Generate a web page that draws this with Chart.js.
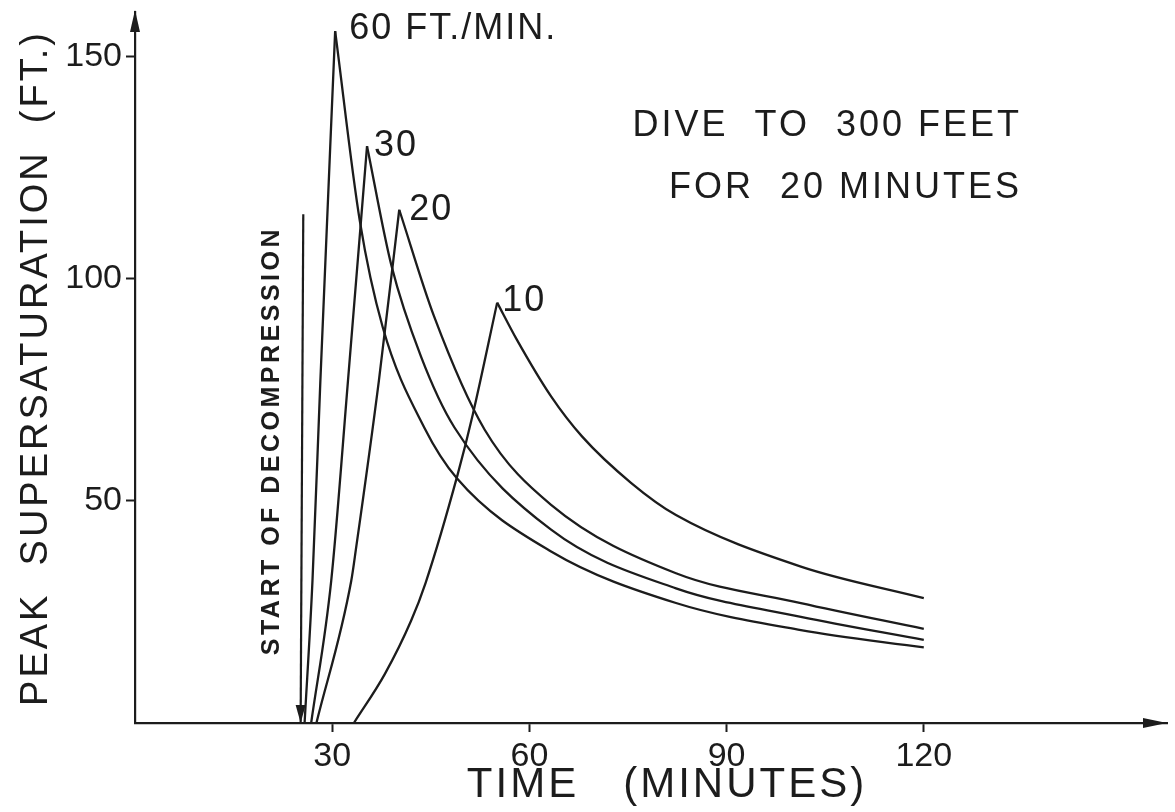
<!DOCTYPE html>
<html>
<head>
<meta charset="utf-8">
<script src="https://cdn.jsdelivr.net/npm/chart.js@4"></script>
<style>
  html, body { margin: 0; padding: 0; background: #fff; }
  canvas { display: block; }
</style>
</head>
<body>
<canvas id="diveChart" width="1175" height="812"></canvas>
<script>
// values: time in minutes, peak supersaturation in feet
const time60 = [25.8, 27.0, 28.2, 30.45, 34.2, 37.7, 44.0, 49.0, 63.3, 82.3, 101.3, 120];
const sat60  = [0, 32, 77, 155.7, 113, 89, 66.5, 55, 38.6, 27.0, 20.9, 17.0];

const time30 = [26.8, 29.85, 32.4, 35.3, 39.0, 43.5, 48.6, 63.3, 82.3, 101.3, 120];
const sat30  = [0, 32, 77, 129.8, 103, 82.5, 66.5, 43.5, 30.3, 23.9, 18.7];

const time20 = [27.6, 32.9, 33.6, 37.1, 40.2, 45.5, 53.2, 63.3, 82.3, 101.3, 120];
const sat20  = [0, 32, 39, 77, 115.5, 91.5, 66, 49.1, 33.7, 27.0, 21.2];

const time10 = [33.3, 38.0, 42.0, 44.2, 49.1, 51.4, 55.1, 58.0, 63.3, 68.0, 75.5, 82.3, 101.3, 120];
const sat10  = [0, 11, 23, 31.5, 56, 69.5, 94.6, 86.5, 73.5, 64.5, 54, 46.8, 35.2, 28.1];

const rateLabels = ['60 FT./MIN.', '30', '20', '10'];

// start of decompression arrow
const decompTime = [25.6, 25.2];
const decompSat  = [114.5, 0];

const xTickValues = [30, 60, 90, 120];
const yTickValues = [50, 100, 150];
const xMax = 157;
const yMax = 160;

const INK = '#1c1c1c';
const FONT = '"Liberation Sans", Arial, sans-serif';

function toPoints(xs, ys) {
    return xs.map((x, i) => ({ x: x, y: ys[i] }));
}

// split each curve at its peak so the peak stays sharp
function splitAtPeak(xs, ys) {
    const k = ys.indexOf(Math.max(...ys));
    return [toPoints(xs.slice(0, k + 1), ys.slice(0, k + 1)), toPoints(xs.slice(k), ys.slice(k))];
}

const curves = [[time60, sat60], [time30, sat30], [time20, sat20], [time10, sat10]];
const datasets = [];
const peaks = [];
curves.forEach(([xs, ys], i) => {
    const [rise, fall] = splitAtPeak(xs, ys);
    peaks.push(rise[rise.length - 1]);
    [rise, fall].forEach(pts => datasets.push({
        label: rateLabels[i],
        data: pts,
        showLine: true,
        borderColor: INK,
        borderWidth: 2.3,
        pointRadius: 0,
        cubicInterpolationMode: 'monotone'
    }));
});
datasets.push({
    label: 'start',
    data: toPoints(decompTime, decompSat),
    showLine: true,
    borderColor: INK,
    borderWidth: 2.2,
    pointRadius: 0
});

function drawText(ctx, text, x, y, size, opts) {
    opts = opts || {};
    ctx.save();
    ctx.translate(x, y);
    if (opts.rotate) ctx.rotate(opts.rotate);
    ctx.font = (opts.weight || 'normal') + ' ' + size + 'px ' + FONT;
    ctx.letterSpacing = (opts.spacing || 0) + 'px';
    ctx.fillStyle = INK;
    ctx.textAlign = opts.align || 'left';
    ctx.textBaseline = 'middle';
    ctx.fillText(text, 0, 0);
    ctx.restore();
}

function triangle(ctx, tip, b1, b2) {
    ctx.beginPath();
    ctx.moveTo(tip[0], tip[1]);
    ctx.lineTo(b1[0], b1[1]);
    ctx.lineTo(b2[0], b2[1]);
    ctx.closePath();
    ctx.fill();
}

const decorations = {
    id: 'decorations',
    afterDraw(chart) {
        const ctx = chart.ctx;
        const xs = chart.scales.x, ys = chart.scales.y;
        ctx.save();
        ctx.fillStyle = INK;

        // axis arrow heads
        const ox = xs.getPixelForValue(0), oy = ys.getPixelForValue(0);
        const xe = xs.getPixelForValue(xMax), ye = ys.getPixelForValue(yMax);
        triangle(ctx, [xe, oy], [xe - 24, oy - 5], [xe - 24, oy + 5]);
        triangle(ctx, [ox, ye - 2], [ox - 5, ye + 20], [ox + 5, ye + 20]);

        // start of decompression arrow head
        const ax = xs.getPixelForValue(decompTime[1]), ay = ys.getPixelForValue(decompSat[1]);
        triangle(ctx, [ax, ay], [ax - 5, ay - 18], [ax + 5, ay - 18]);
        const mx = (xs.getPixelForValue(decompTime[0]) + ax) / 2;
        const my = (ys.getPixelForValue(decompSat[0]) + ay) / 2;
        drawText(ctx, 'START OF DECOMPRESSION', mx - 30, my - 28, 25,
            { rotate: -Math.PI / 2, align: 'center', spacing: 3.5, weight: 'bold' });

        // curve labels next to the peaks
        const offs = [[14, -2], [7, 0], [10, 0], [5, -2]];
        peaks.forEach((p, i) => {
            drawText(ctx, rateLabels[i], xs.getPixelForValue(p.x) + offs[i][0],
                ys.getPixelForValue(p.y) + offs[i][1], 36, { spacing: 2 });
        });

        // note
        drawText(ctx, 'DIVE  TO  300 FEET', 1022, 126, 36, { align: 'right', spacing: 3 });
        drawText(ctx, 'FOR  20 MINUTES', 1022, 188, 36, { align: 'right', spacing: 3 });

        // axis titles
        drawText(ctx, 'PEAK  SUPERSATURATION  (FT.)', 37, 368,
            38, { rotate: -Math.PI / 2, align: 'center', spacing: 3 });
        drawText(ctx, 'TIME   (MINUTES)', 667, 785, 42, { align: 'center', spacing: 3 });
        ctx.restore();
    }
};

const axisStyle = (ticks, size) => ({
    type: 'linear',
    min: 0,
    border: { display: true, color: INK, width: 2.2 },
    grid: { drawOnChartArea: false, drawTicks: true, tickLength: 9, tickColor: INK, tickWidth: 2 },
    ticks: { color: INK, font: { family: FONT, size: size }, padding: 4, autoSkip: false, maxRotation: 0 },
    afterBuildTicks: s => { s.ticks = ticks.map(v => ({ value: v })); }
});

const xAxis = Object.assign(axisStyle(xTickValues, 34), {
    max: xMax,
    afterFit: s => { s.height = 89; s.paddingLeft = 0; s.paddingRight = 0; }
});
const yAxis = Object.assign(axisStyle(yTickValues, 34), {
    max: yMax,
    afterFit: s => { s.width = 135; s.paddingTop = 0; s.paddingBottom = 0; }
});

new Chart(document.getElementById('diveChart').getContext('2d'), {
    type: 'scatter',
    data: { datasets: datasets },
    options: {
        responsive: false,
        animation: false,
        layout: { padding: { top: 12, right: 8, left: 0, bottom: 0 } },
        plugins: { legend: { display: false }, tooltip: { enabled: false } },
        scales: { x: xAxis, y: yAxis }
    },
    plugins: [decorations]
});
</script>
</body>
</html>
